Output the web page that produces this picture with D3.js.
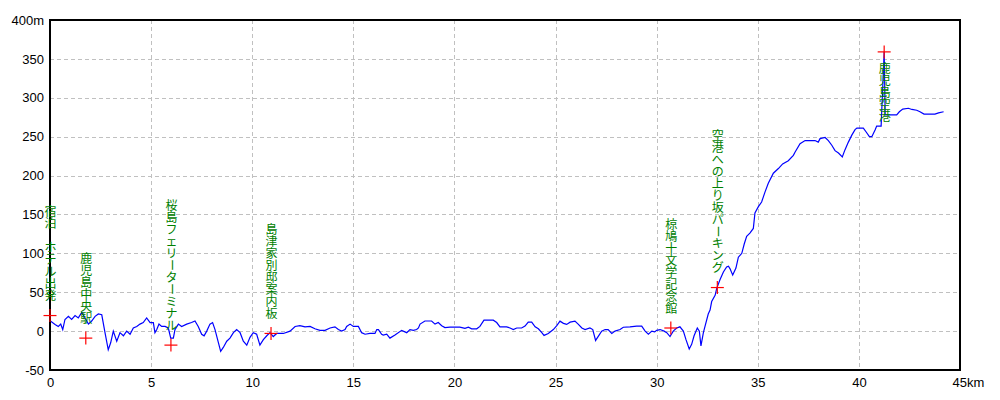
<!DOCTYPE html>
<html>
<head>
<meta charset="utf-8">
<script src="https://cdn.jsdelivr.net/npm/d3@7"></script>
<style>
  html, body { margin: 0; padding: 0; background: #fff; }
  svg { display: block; }
</style>
</head>
<body>
<svg id="chart" width="1000" height="400"></svg>
<script>
// ---- data ----
const profileKm = [
  0.00, 0.02, 0.25, 0.41, 0.53, 0.63, 0.74, 0.91, 1.07, 1.24, 1.40, 1.57, 1.73, 1.90, 2.06, 2.23, 2.39, 2.56, 2.72, 2.88,
  3.00, 3.13, 3.30, 3.46, 3.63, 3.79, 3.96, 4.12, 4.29, 4.45, 4.61, 4.78, 4.95, 5.11, 5.19, 5.28, 5.39, 5.52, 5.69, 5.85,
  5.97, 6.10, 6.18, 6.35, 6.51, 6.76, 7.00, 7.17, 7.33, 7.50, 7.62, 7.75, 7.91, 8.04, 8.16, 8.33, 8.44, 8.57, 8.74, 8.90,
  9.07, 9.23, 9.40, 9.56, 9.73, 9.89, 10.05, 10.22, 10.38, 10.55, 10.72, 10.88, 11.04, 11.21, 11.54, 11.87, 12.12, 12.36, 12.61, 12.86,
  13.10, 13.35, 13.60, 13.85, 14.09, 14.26, 14.42, 14.59, 14.67, 14.84, 15.00, 15.25, 15.41, 15.58, 15.82, 16.07, 16.16, 16.24, 16.40, 16.48,
  16.65, 16.81, 17.06, 17.39, 17.64, 17.80, 17.97, 18.13, 18.22, 18.30, 18.54, 18.87, 19.04, 19.20, 19.37, 19.53, 19.78, 20.03, 20.27, 20.52,
  20.69, 20.85, 21.10, 21.26, 21.46, 21.92, 22.09, 22.25, 22.58, 22.75, 22.91, 23.08, 23.32, 23.49, 23.65, 23.82, 23.99, 24.15, 24.32, 24.43,
  24.64, 24.89, 25.06, 25.22, 25.39, 25.55, 25.72, 25.96, 26.13, 26.30, 26.46, 26.70, 26.84, 26.98, 27.12, 27.28, 27.45, 27.60, 27.78, 27.94,
  28.19, 28.35, 28.68, 29.01, 29.26, 29.43, 29.59, 29.76, 29.90, 30.00, 30.17, 30.37, 30.50, 30.66, 30.82, 30.99, 31.15, 31.32, 31.45, 31.61,
  31.73, 31.85, 32.01, 32.11, 32.19, 32.31, 32.39, 32.55, 32.64, 32.72, 32.89, 32.97, 33.13, 33.30, 33.46, 33.55, 33.63, 33.76, 33.92, 34.04,
  34.21, 34.33, 34.45, 34.61, 34.78, 34.86, 35.03, 35.19, 35.36, 35.52, 35.77, 36.02, 36.23, 36.51, 36.76, 36.84, 37.09, 37.34, 37.83, 37.99,
  38.08, 38.33, 38.49, 38.66, 38.82, 38.99, 39.18, 39.31, 39.48, 39.65, 39.81, 39.90, 40.22, 40.36, 40.52, 40.64, 40.80, 40.88, 41.10, 41.25,
  41.30, 41.87, 42.00, 42.17, 42.45, 42.62, 42.86, 43.02, 43.22, 43.44, 43.76, 43.94, 44.19
];
const profileElev = [
  45, 13, 8.6, 6, 9, 2, 15, 19, 15, 20, 17, 24, 17, 9, 13, 19, 22, 21, -2, -24,
  -15, 0, -13, -2, -6, 0, -4, 4, 6, 9, 11, 17, 11, 11, -2, 2, 9, 6, 6, 4,
  -9, -9, 2, 9, 6, 9, 11, 13, 6, -4, -6, 0, 9, 11, 2, -15, -26, -21, -13, -9,
  -2, 2, -2, -13, -18, -8, -2, -4, -18, -11, -6, -2, -7, -3, -3, 0, 6, 7, 5.5, 6,
  3, 1, 1, 4, 5.5, 2, 0, 2, 6, 9, 6, 6, -2, -4, -3, -3, 2, 2, -4, -5,
  -4, -9, -5, 1, -2, 2, 1, 2, 4, 9, 13, 13, 9, 11, 7, 4.5, 5, 5, 5, 3.5,
  5, 3, 3, 6, 14, 14, 11, 5.5, 5.5, 4, 2, 4, 4, 6.4, 11.5, 11.5, 5.5, 3, -2, -5.5,
  -3, 2, 7, 12.8, 10, 8.6, 11.5, 12.8, 8.6, 4, 2, 4, 2, -12, -6.4, 0, 2, 2, -3, 0,
  2, 5, 5.5, 6.4, 6.4, 0, -4, 0, -1, 1, 2, 0, -2, -7, 0, 4, 5.5, 0, -11, -23,
  -17, -6, 4, 0, -19, -2, 6, 22, 27, 38, 46, 55, 66, 76, 82.5, 83.5, 80, 72, 81, 95,
  100, 112, 122, 126, 132, 152, 160, 166, 179, 190, 203, 209, 215, 219, 226, 230, 241, 245, 245, 243,
  247.5, 249, 245, 239, 232, 229, 224, 233, 243, 252, 259, 261, 261, 256, 250, 250, 258.6, 263.6, 263.6, 359,
  278, 278, 282, 285.5, 286.5, 285, 284, 282, 279, 279, 279, 280.6, 282
];
const markerKm    = [0.0, 1.77, 5.98, 10.93, 30.7, 33.0, 41.25];
const markerElev  = [20, -9, -18, -3, 4, 56, 359];
const markerLabel = ["宿泊　ホテル出発", "鹿児島中央駅", "桜島フェリーターミナル", "島津家別邸案内板",
                     "椋鳩十文学記念館", "空港への上り坂パーキング", "鹿児島空港"];
const xTicks = [0, 5, 10, 15, 20, 25, 30, 35, 40, 45];
const yTicks = [400, 350, 300, 250, 200, 150, 100, 50, 0, -50];
const xUnit = "km", yUnit = "m";

// ---- layout ----
const svg = d3.select("#chart");
const L = 50, R = 960, T = 20, B = 370;
const x = d3.scaleLinear().domain([0, 45]).range([L, R]);
const y = d3.scaleLinear().domain([-50, 400]).range([B, T]);
const font = "'Liberation Sans', Arial, sans-serif";
const cjk = "'Noto Sans CJK JP', 'Noto Sans CJK SC', sans-serif";

svg.append("rect").attr("width", 1000).attr("height", 400).attr("fill", "#fff");

// grid
const grid = svg.append("g").attr("shape-rendering", "crispEdges")
  .attr("stroke", "#c0c0c0").attr("stroke-width", 1).attr("stroke-dasharray", "4,3");
grid.selectAll("line.h").data(yTicks.filter(v => v > -50 && v < 400)).enter().append("line")
  .attr("x1", L).attr("x2", R).attr("y1", d => Math.round(y(d)) + 0.5).attr("y2", d => Math.round(y(d)) + 0.5);
grid.selectAll("line.v").data(xTicks.filter(v => v > 0 && v < 45)).enter().append("line")
  .attr("y1", T).attr("y2", B).attr("x1", d => Math.round(x(d)) + 0.5).attr("x2", d => Math.round(x(d)) + 0.5);

// axes labels via d3 axes
const yAxis = d3.axisLeft(y).tickValues(yTicks).tickSize(0).tickPadding(6)
  .tickFormat(d => d === 400 ? d + yUnit : d);
const gy = svg.append("g").attr("transform", `translate(${L},0)`).call(yAxis);
gy.select(".domain").remove();
gy.selectAll("text").attr("font-family", font).attr("font-size", 13).attr("fill", "#000");

const xAxis = d3.axisBottom(x).tickValues(xTicks).tickSize(0).tickPadding(8)
  .tickFormat(d => d === 45 ? d + xUnit : d);
const gx = svg.append("g").attr("transform", `translate(0,${B})`).call(xAxis);
gx.select(".domain").remove();
gx.selectAll("text").attr("font-family", font).attr("font-size", 13).attr("fill", "#000")
  .attr("dy", "0.71em");
gx.selectAll(".tick").filter(d => d === 45).select("text")
  .attr("text-anchor", "start").attr("x", -8);

// profile line
const pts = profileKm.map((k, i) => [k, profileElev[i]]);
svg.append("path").datum(pts)
  .attr("d", d3.line().x(d => x(d[0])).y(d => y(d[1])))
  .attr("fill", "none").attr("stroke", "#0000ff").attr("stroke-width", 1.2)
  .attr("stroke-linejoin", "miter");

// frame
svg.append("rect").attr("x", L).attr("y", T).attr("width", R - L).attr("height", B - T)
  .attr("fill", "none").attr("stroke", "#000").attr("stroke-width", 2);

// markers
const mk = svg.append("g").attr("stroke", "#ff0000").attr("stroke-width", 1.2);
markerKm.forEach((k, i) => {
  const cx = x(k), cy = y(markerElev[i]);
  mk.append("line").attr("x1", cx - 6.5).attr("x2", cx + 6.5).attr("y1", cy).attr("y2", cy);
  mk.append("line").attr("x1", cx).attr("x2", cx).attr("y1", cy - 6.5).attr("y2", cy + 6.5);
});

// vertical labels: one character per cell, long-vowel marks turned upright
const pitch = 12;
const labelsG = svg.append("g").attr("font-family", cjk).attr("font-size", 12)
  .attr("fill", "#008000").attr("text-anchor", "middle");
markerKm.forEach((k, i) => {
  const cx = x(k) + 0.5, cy = y(markerElev[i]);
  const chars = Array.from(markerLabel[i]);
  const h = chars.length * pitch;
  let top = cy - 14 - h;
  if (top < T) top = cy + 11;
  chars.forEach((c, j) => {
    if (c.trim() === "") return;
    const cellTop = top + j * pitch;
    const t = labelsG.append("text").attr("x", cx).attr("y", cellTop + 10.5).text(c);
    if (c === "ー") t.attr("transform", `rotate(90, ${cx}, ${cellTop + 6})`);
  });
});
</script>
</body>
</html>
